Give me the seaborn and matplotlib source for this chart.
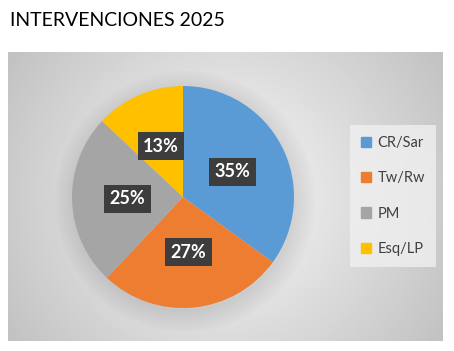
import numpy as np
import matplotlib.pyplot as plt
import seaborn as sns
from matplotlib.patches import Patch, Circle

# data
categories = ["CR/Sar", "Tw/Rw", "PM", "Esq/LP"]
values = [35, 27, 25, 13]
colors = ["#5B9BD5", "#ED7D31", "#A5A5A5", "#FFC000"]
title = "INTERVENCIONES 2025"

sns.set_theme(style="white")
plt.rcParams["font.family"] = ["Lato", "DejaVu Sans"]

W, H = 454, 351
fig = plt.figure(figsize=(W / 100, H / 100), dpi=100)
fig.patch.set_facecolor("white")

# gray chart area with radial gradient
bg = fig.add_axes([8 / W, (H - 341) / H, 435 / W, 289 / H])
yy, xx = np.mgrid[0:1:300j, 0:1.5:450j]
r = np.sqrt((xx - 0.75) ** 2 + (yy - 0.5) ** 2)
grad = np.clip(0.975 - 0.24 * r, 0.76, 0.975)
bg.imshow(grad, cmap="gray", vmin=0, vmax=1, aspect="auto", extent=[0, 1, 0, 1])
bg.set_axis_off()

fig.text(10 / W, 1 - 20 / H, title, fontsize=14, color="black", va="center", ha="left")

# pie
cx, cy, rad = 183, 197, 111
ax = fig.add_axes([(cx - rad) / W, (H - cy - rad) / H, 2 * rad / W, 2 * rad / H])
ax.set_facecolor("none")
# soft shadow under the pie
for i in range(8):
    sh = Circle((0.02, -0.04), 1.0 + 0.025 * i, color="black", alpha=0.012,
                zorder=0, clip_on=False, lw=0)
    ax.add_patch(sh)
wedges, texts, autotexts = ax.pie(
    values, colors=colors, startangle=90, counterclock=False,
    autopct="%1.0f%%", pctdistance=0.5,
    wedgeprops=dict(linewidth=0),
    textprops=dict(color="white", fontsize=13, fontweight="bold"),
)
for t in autotexts:
    t.set_bbox(dict(boxstyle="square,pad=0.3", fc="#3d3d3d", ec="none"))
ax.set_xlim(-1, 1)
ax.set_ylim(-1, 1)
ax.set_aspect("equal")
ax.axis("off")

handles = [Patch(color=c, label=l) for c, l in zip(colors, categories)]
leg = fig.legend(handles=handles, loc="center", bbox_to_anchor=(393 / W, 1 - 196 / H),
                 frameon=True, fontsize=10.5, handlelength=0.7, handleheight=0.7,
                 handletextpad=0.4, labelspacing=1.45, borderpad=0.8, fancybox=False)
leg.get_frame().set_facecolor("#f0f0f0")
leg.get_frame().set_edgecolor("none")
for t in leg.get_texts():
    t.set_color("#404040")

fig.savefig("out.png", dpi=100)
